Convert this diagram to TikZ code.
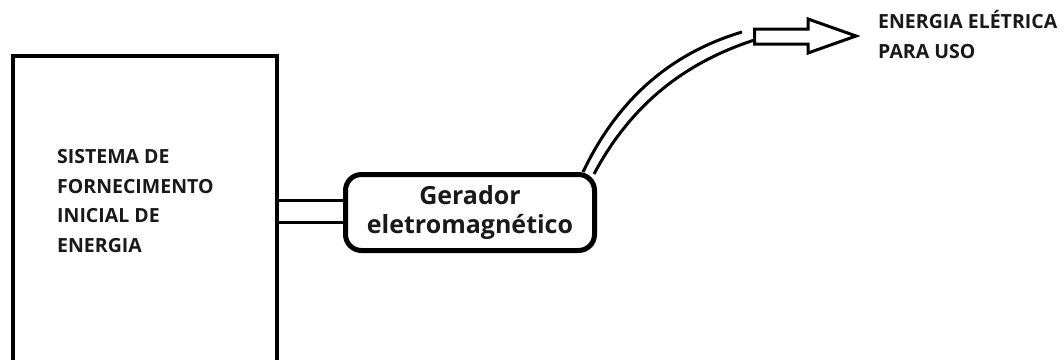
\documentclass[tikz,border=0pt]{standalone}
\usepackage{fontspec}
\setmainfont{Open Sans}
\usetikzlibrary{calc}
\begin{document}
\begin{tikzpicture}[x=1pt,y=-1pt,
  capslabel/.style={align=left,anchor=north west,inner sep=0pt,font=\bfseries\fontsize{19.5}{29.5}\selectfont,text=black!90},
  wire/.style={line width=3pt},
  sysbox/.style={draw,line width=4pt,minimum width=264pt,minimum height=364pt,inner sep=0pt},
  genbox/.style={draw,line width=5pt,rounded corners=16pt,minimum width=249pt,minimum height=76pt,inner sep=0pt,align=center,font=\bfseries\fontsize{25}{29}\selectfont,text=black!90}]
\useasboundingbox (0,0) rectangle (1064,359);
\node[sysbox] (sys) at (145,238) {};
\node[capslabel] (systxt) at (57,149.5) {SISTEMA DE\\FORNECIMENTO\\INICIAL DE\\ENERGIA};
\node[genbox] (gen) at (470,212.5) {Gerador\\eletromagnético};
\coordinate (ya) at (0,200);
\coordinate (yb) at (0,222);
\draw[wire] (sys.east |- ya) -- (gen.west |- ya);
\draw[wire] (sys.east |- yb) -- (gen.west |- yb);
% arrow
\coordinate (ashaft) at (754.5,40);
\draw[wire,line join=miter] (754.5,29) -- (808,29) -- (808,19) -- (856,36) -- (808,53) -- (808,44) -- (754.5,44) -- cycle;
\coordinate (upend) at (742,32);
\coordinate (s1) at ($(gen.north east)+(-14,0)$);
\coordinate (s2) at ($(gen.north east)+(-3,2)$);
\draw[wire] (s1) .. controls (615,105) and (665,55) .. (upend);
\draw[wire] (s2) .. controls (627,112) and (677,65) .. (ashaft);
\node[capslabel] (out) at (878,10.5) {ENERGIA ELÉTRICA\\PARA USO};
\end{tikzpicture}
\end{document}
